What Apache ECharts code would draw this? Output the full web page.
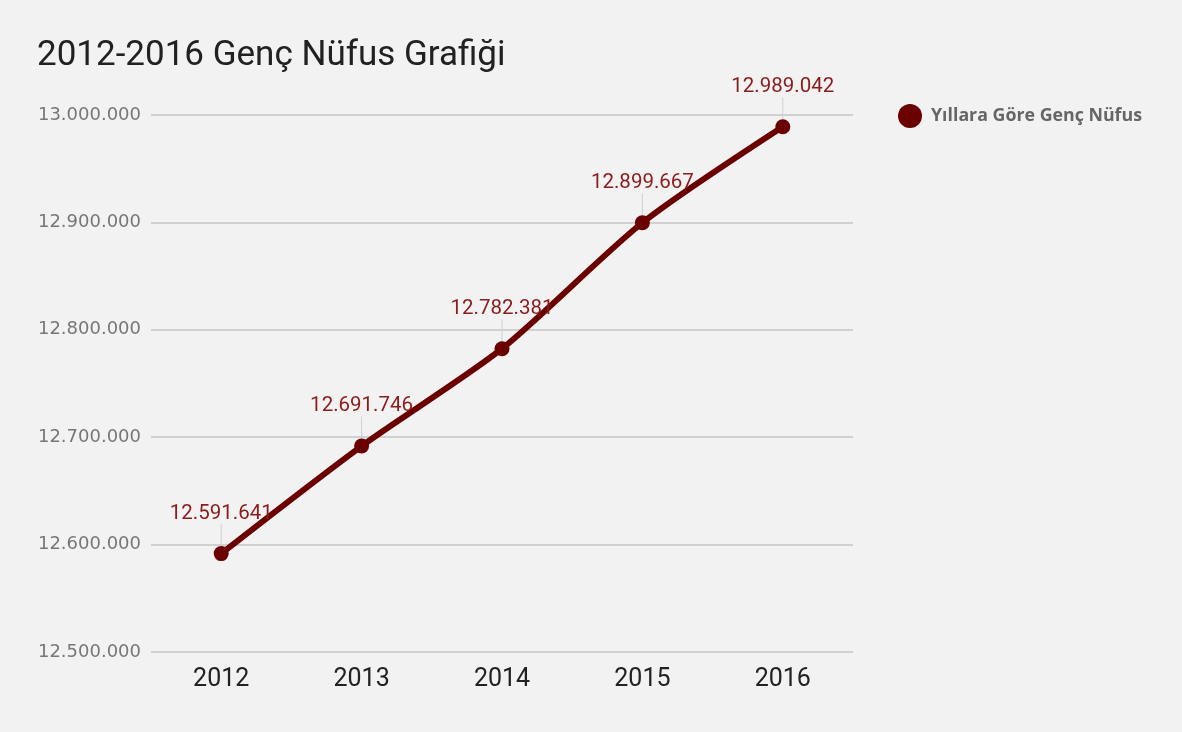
<!DOCTYPE html>
<html><head><meta charset="utf-8">
<script src="https://cdn.jsdelivr.net/npm/echarts@6/dist/echarts.min.js"></script>
<style>html,body{margin:0;padding:0;background:#f2f2f2}#c{width:1182px;height:732px}</style>
</head><body><div id="c"></div>
<script>
const titleText = '2012-2016 Genç Nüfus Grafiği';
const seriesName = 'Yıllara Göre Genç Nüfus';
const years = ['2012', '2013', '2014', '2015', '2016'];
const population = [12591641, 12691746, 12782381, 12899667, 12989042];
const yMin = 12500000, yMax = 13000000, yStep = 100000;

function fmt(v){ return String(Math.round(v)).replace(/\B(?=(\d{3})+(?!\d))/g, '.'); }

const chart = echarts.init(document.getElementById('c'));
chart.setOption({
  backgroundColor: '#f2f2f2',
  animation: false,
  title: {
    text: titleText, left: 32, top: 34,
    textStyle: {fontFamily: 'Roboto', fontSize: 35, fontWeight: 'normal', color: '#212121'}
  },
  legend: {
    data: [seriesName], left: 893, top: 99, orient: 'vertical',
    icon: 'circle', itemWidth: 24, itemHeight: 24, itemGap: 10,
    textStyle: {fontFamily: 'Open Sans', fontWeight: 'bold', fontSize: 17.8, color: '#666666', padding: [0, 0, 0, 4]}
  },
  grid: {left: 151, right: 329, top: 115, bottom: 80},
  xAxis: {
    type: 'category', data: years, boundaryGap: true,
    axisLine: {show: false}, axisTick: {show: false},
    axisLabel: {fontFamily: 'Roboto', fontSize: 25, color: '#222222', margin: 15}
  },
  yAxis: {
    type: 'value', min: yMin, max: yMax, interval: yStep,
    axisLine: {show: false}, axisTick: {show: false},
    splitLine: {lineStyle: {color: '#c6c6c6', width: 1.5}},
    axisLabel: {fontFamily: 'DejaVu Sans', fontSize: 18, color: '#777777', margin: 10, formatter: fmt}
  },
  series: [{
    name: seriesName, type: 'line', data: population,
    smooth: 0.25, symbol: 'circle', symbolSize: 15,
    lineStyle: {color: '#6b0000', width: 6},
    itemStyle: {color: '#6b0000'},
    label: {
      show: true, position: 'top', distance: 8,
      fontFamily: 'Roboto', fontSize: 20.5, color: '#8b1c1c',
      formatter: p => fmt(p.value)
    },
    labelLayout: {dy: -14},
    labelLine: {show: true, lineStyle: {color: '#d0d0d0', width: 1}}
  }]
});
</script></body></html>
